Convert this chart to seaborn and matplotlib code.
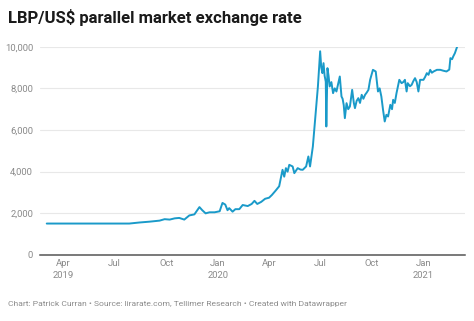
import matplotlib
matplotlib.use("Agg")
import matplotlib.pyplot as plt
import seaborn as sns
import pandas as pd

# ---- data ----
dates = [
    "2019-03-02", "2019-07-27", "2019-08-14", "2019-09-01", "2019-09-19", "2019-09-28",
    "2019-10-07", "2019-10-16", "2019-10-24", "2019-11-02", "2019-11-11", "2019-11-20",
    "2019-11-29", "2019-12-04", "2019-12-10", "2019-12-17", "2019-12-26", "2020-01-04",
    "2020-01-09", "2020-01-14", "2020-01-18", "2020-01-21", "2020-01-27", "2020-02-01",
    "2020-02-08", "2020-02-14", "2020-02-23", "2020-03-01", "2020-03-06", "2020-03-11",
    "2020-03-18", "2020-03-25", "2020-04-01", "2020-04-06", "2020-04-13", "2020-04-19",
    "2020-04-25", "2020-04-28", "2020-05-01", "2020-05-04", "2020-05-07", "2020-05-13",
    "2020-05-16", "2020-05-22", "2020-05-27", "2020-05-31", "2020-06-06", "2020-06-10",
    "2020-06-13", "2020-06-18", "2020-06-24", "2020-06-27", "2020-07-01", "2020-07-03",
    "2020-07-05", "2020-07-07", "2020-07-09", "2020-07-11", "2020-07-12", "2020-07-14",
    "2020-07-16", "2020-07-18", "2020-07-21", "2020-07-24", "2020-07-27", "2020-07-30",
    "2020-08-02", "2020-08-05", "2020-08-08", "2020-08-10", "2020-08-12", "2020-08-14",
    "2020-08-17", "2020-08-20", "2020-08-23", "2020-08-27", "2020-08-30", "2020-09-01",
    "2020-09-04", "2020-09-07", "2020-09-10", "2020-09-13", "2020-09-16", "2020-09-19",
    "2020-09-22", "2020-09-25", "2020-09-28", "2020-10-03", "2020-10-08", "2020-10-12",
    "2020-10-15", "2020-10-18", "2020-10-21", "2020-10-24", "2020-10-27", "2020-10-30",
    "2020-11-03", "2020-11-06", "2020-11-08", "2020-11-11", "2020-11-14", "2020-11-19",
    "2020-11-23", "2020-11-26", "2020-11-29", "2020-12-02", "2020-12-04", "2020-12-08",
    "2020-12-11", "2020-12-14", "2020-12-17", "2020-12-20", "2020-12-23", "2020-12-26",
    "2021-01-01", "2021-01-04", "2021-01-07", "2021-01-10", "2021-01-13", "2021-01-16",
    "2021-01-19", "2021-01-25", "2021-01-31", "2021-02-05", "2021-02-11", "2021-02-16",
    "2021-02-18", "2021-02-21", "2021-02-23", "2021-02-26", "2021-03-02",
]
rates = [
    1510, 1510, 1560, 1600, 1650, 1720,
    1700, 1760, 1780, 1700, 1900, 1950,
    2300, 2150, 2000, 2050, 2050, 2100,
    2500, 2420, 2150, 2250, 2080, 2200,
    2200, 2400, 2350, 2450, 2600, 2450,
    2550, 2700, 2750, 2880, 3100, 3300,
    4090, 3760, 4170, 4000, 4330, 4250,
    3930, 4170, 4100, 4090, 4250, 4730,
    4250, 5210, 7130, 8090, 9780, 9000,
    8730, 9210, 8600, 8320, 6170, 8970,
    8600, 8090, 8300, 7770, 8000, 7850,
    8200, 8570, 7610, 7500, 7200, 6570,
    7290, 7000, 7130, 7930, 7300, 7050,
    7400, 7530, 7300, 7690, 7500, 7690,
    7800, 7930, 8410, 8890, 8810, 7850,
    8000, 7610, 6970, 6410, 6730, 6650,
    7210, 7000, 7450, 7300, 7770, 8410,
    8250, 8300, 8410, 7850, 8250, 8100,
    8170, 8350, 8490, 8300, 7850, 8410,
    8410, 8550, 8730, 8650, 8890, 8750,
    8810, 8890, 8890, 8850, 8810, 8900,
    9450, 9400, 9530, 9690, 10000,
]
tick_dates = ["2019-04-01", "2019-07-01", "2019-10-01", "2020-01-01",
              "2020-04-01", "2020-07-01", "2020-10-01", "2021-01-01"]
tick_labels = ["Apr\n2019", "Jul", "Oct", "Jan\n2020", "Apr", "Jul", "Oct", "Jan\n2021"]
y_ticks = [0, 2000, 4000, 6000, 8000, 10000]

title = "LBP/US$ parallel market exchange rate"
footer = ("Chart: Patrick Curran \u2022 Source: lirarate.com, Tellimer Research "
          "\u2022 Created with Datawrapper")

df = pd.DataFrame({"date": pd.to_datetime(dates), "rate": rates})

# ---- style ----
sns.set_theme(style="white")
plt.rcParams["font.family"] = ["Roboto", "DejaVu Sans"]

fig = plt.figure(figsize=(4.74, 3.21), dpi=100)
ax = fig.add_axes([40 / 474, 1 - 255 / 321, 425 / 474, (255 - 46.7) / 321])

sns.lineplot(data=df, x="date", y="rate", ax=ax, color="#1a9ac9", linewidth=1.4)

ax.set_ylim(0, 10000)
ax.set_xlim(pd.Timestamp("2019-02-18"), pd.Timestamp("2021-03-16"))

ax.set_yticks(y_ticks)
ax.set_yticklabels([f"{v:,}" for v in y_ticks])
ax.set_xticks(pd.to_datetime(tick_dates))
ax.set_xticklabels(tick_labels)

ax.tick_params(axis="both", length=0, labelsize=6.8, labelcolor="#8a8a8a")
ax.tick_params(axis="y", pad=5)
ax.tick_params(axis="x", pad=3)
for lbl in ax.get_xticklabels():
    lbl.set_linespacing(1.45)

ax.set_xlabel("")
ax.set_ylabel("")
for s in ["top", "right", "left"]:
    ax.spines[s].set_visible(False)
ax.spines["bottom"].set_color("#555555")
ax.spines["bottom"].set_linewidth(1.1)

for v in y_ticks[1:]:
    ax.axhline(v, color="#e8e8e8", linewidth=0.8, zorder=0)

fig.text(8 / 474, 1 - 18 / 321, title, fontsize=12, fontweight="bold",
         color="#1a1a1a", ha="left", va="center")
fig.text(8 / 474, 1 - 304 / 321, footer, fontsize=6.1, color="#8c8c8c",
         ha="left", va="center")

fig.savefig("out.png", dpi=100, facecolor="white")
